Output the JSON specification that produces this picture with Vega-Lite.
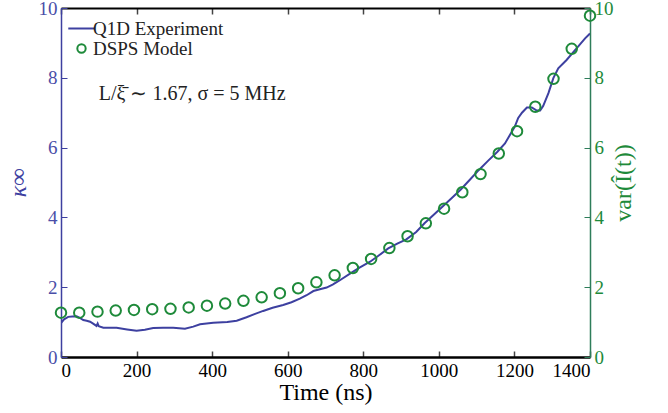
{
  "$schema": "https://vega.github.io/schema/vega-lite/v6.json",
  "width": 529,
  "height": 349,
  "autosize": {"type": "none"},
  "padding": {"left": 61, "top": 8, "right": 78, "bottom": 56},
  "background": "white",
  "config": {
    "view": {"stroke": null},
    "font": "Liberation Serif, serif",
    "axis": {"labelFont": "Liberation Serif, serif", "titleFont": "Liberation Serif, serif", "titleFontWeight": "normal"},
    "text": {"font": "Liberation Serif, serif"},
    "legend": {"labelFont": "Liberation Serif, serif"}
  },
  "datasets": {
    "exp": [
      {"t": 0, "k": 0.97}, {"t": 8, "k": 1.08}, {"t": 19, "k": 1.15}, {"t": 30, "k": 1.16}, {"t": 41, "k": 1.17},
      {"t": 50, "k": 1.12}, {"t": 59, "k": 1.06}, {"t": 68, "k": 1.04}, {"t": 77, "k": 1.01}, {"t": 86, "k": 0.95},
      {"t": 94, "k": 0.89}, {"t": 97, "k": 0.96}, {"t": 100, "k": 0.88}, {"t": 112, "k": 0.84}, {"t": 147, "k": 0.84},
      {"t": 175, "k": 0.79}, {"t": 200, "k": 0.75}, {"t": 222, "k": 0.78}, {"t": 244, "k": 0.83}, {"t": 270, "k": 0.84},
      {"t": 297, "k": 0.84}, {"t": 328, "k": 0.81}, {"t": 350, "k": 0.87}, {"t": 368, "k": 0.94}, {"t": 403, "k": 0.98},
      {"t": 440, "k": 1.0}, {"t": 465, "k": 1.04}, {"t": 491, "k": 1.14}, {"t": 512, "k": 1.23}, {"t": 535, "k": 1.32},
      {"t": 560, "k": 1.41}, {"t": 588, "k": 1.49}, {"t": 610, "k": 1.57}, {"t": 632, "k": 1.67}, {"t": 650, "k": 1.77},
      {"t": 668, "k": 1.89}, {"t": 685, "k": 1.94}, {"t": 703, "k": 1.99}, {"t": 720, "k": 2.08}, {"t": 738, "k": 2.2},
      {"t": 769, "k": 2.42}, {"t": 790, "k": 2.56}, {"t": 818, "k": 2.73}, {"t": 840, "k": 2.9}, {"t": 866, "k": 3.11},
      {"t": 890, "k": 3.25}, {"t": 914, "k": 3.37}, {"t": 940, "k": 3.58}, {"t": 962, "k": 3.83}, {"t": 985, "k": 4.06},
      {"t": 1010, "k": 4.31}, {"t": 1035, "k": 4.56}, {"t": 1058, "k": 4.8}, {"t": 1082, "k": 5.08}, {"t": 1106, "k": 5.36},
      {"t": 1130, "k": 5.62}, {"t": 1155, "k": 5.88}, {"t": 1175, "k": 6.12}, {"t": 1188, "k": 6.36}, {"t": 1201, "k": 6.6},
      {"t": 1210, "k": 6.85}, {"t": 1220, "k": 7.0}, {"t": 1233, "k": 7.15}, {"t": 1246, "k": 7.15}, {"t": 1259, "k": 7.06},
      {"t": 1268, "k": 7.06}, {"t": 1276, "k": 7.19}, {"t": 1290, "k": 7.56}, {"t": 1303, "k": 7.99}, {"t": 1316, "k": 8.27},
      {"t": 1338, "k": 8.51}, {"t": 1365, "k": 8.85}, {"t": 1387, "k": 9.13}, {"t": 1400, "k": 9.27}
    ],
    "model": [
      {"t": 0, "v": 1.27}, {"t": 48.3, "v": 1.27}, {"t": 96.6, "v": 1.3}, {"t": 144.8, "v": 1.33}, {"t": 193.1, "v": 1.35},
      {"t": 241.4, "v": 1.37}, {"t": 289.7, "v": 1.38}, {"t": 337.9, "v": 1.42}, {"t": 386.2, "v": 1.47}, {"t": 434.5, "v": 1.53},
      {"t": 482.8, "v": 1.61}, {"t": 531, "v": 1.71}, {"t": 579.3, "v": 1.83}, {"t": 627.6, "v": 1.97}, {"t": 675.9, "v": 2.14},
      {"t": 724.1, "v": 2.34}, {"t": 772.4, "v": 2.55}, {"t": 820.7, "v": 2.81}, {"t": 869, "v": 3.12}, {"t": 917.2, "v": 3.46},
      {"t": 965.5, "v": 3.83}, {"t": 1013.8, "v": 4.25}, {"t": 1062.1, "v": 4.72}, {"t": 1110.3, "v": 5.24}, {"t": 1158.6, "v": 5.83},
      {"t": 1206.9, "v": 6.47}, {"t": 1255.2, "v": 7.17}, {"t": 1303.4, "v": 7.97}, {"t": 1351.7, "v": 8.83}, {"t": 1400, "v": 9.78}
    ]
  },
  "layer": [
    {
      "data": {"name": "exp"},
      "transform": [{"calculate": "'Q1D Experiment'", "as": "series"}],
      "mark": {"type": "line", "strokeWidth": 2, "clip": true},
      "encoding": {
        "x": {"field": "t", "type": "quantitative", "scale": {"domain": [0, 1400], "nice": false},
          "axis": {"title": "Time (ns)", "format": "d", "values": [0, 200, 400, 600, 800, 1000, 1200, 1400], "grid": false,
            "domainColor": "black", "domainWidth": 2.5, "tickColor": "#444", "tickWidth": 1.5, "tickSize": -6,
            "labelFont": "Liberation Serif, serif", "labelColor": "black", "labelFontSize": 19, "labelPadding": 10,
            "titleFont": "Liberation Serif, serif", "titleFontWeight": "normal", "titleColor": "black", "titleFontSize": 24, "titlePadding": 0}},
        "y": {"field": "k", "type": "quantitative", "scale": {"domain": [0, 10], "nice": false},
          "axis": {"title": "κ∞", "values": [0, 2, 4, 6, 8, 10], "grid": false,
            "domainColor": "#3D40A0", "domainWidth": 1.5, "tickColor": "#3D40A0", "tickSize": -6,
            "labelFont": "Liberation Serif, serif", "labelColor": "#4A4EA8", "labelFontSize": 19, "labelPadding": 10,
            "titleFont": "Liberation Serif, serif", "titleFontWeight": "normal", "titleFontStyle": "italic", "titleColor": "#3D40A0", "titleFontSize": 24, "titlePadding": 8}},
        "color": {"field": "series", "type": "nominal",
          "scale": {"domain": ["Q1D Experiment", "DSPS Model"], "range": ["#3D40A0", "#1E8A3A"]},
          "legend": {"title": null, "orient": "top-left", "offset": 11, "labelFont": "Liberation Serif, serif", "labelFontSize": 19, "labelColor": "#222", "rowPadding": 0, "symbolSize": 550, "symbolStrokeWidth": 2, "padding": 0, "labelOffset": 2,
            "encode": {"symbols": {"update": {"size": {"signal": "datum.value === 'Q1D Experiment' ? 700 : 70"}}}}}
        }
      }
    },
    {
      "data": {"name": "model"},
      "transform": [{"calculate": "'DSPS Model'", "as": "series"}],
      "mark": {"type": "point", "filled": false, "size": 110, "strokeWidth": 2, "opacity": 1},
      "encoding": {
        "x": {"field": "t", "type": "quantitative", "axis": {"orient": "top", "title": null, "labels": false, "grid": false, "values": [0, 200, 400, 600, 800, 1000, 1200, 1400], "domainColor": "black", "domainWidth": 2, "tickColor": "#444", "tickWidth": 1.5, "tickSize": -6}},
        "y": {"field": "v", "type": "quantitative", "scale": {"domain": [0, 10], "nice": false},
          "axis": {"orient": "right", "title": "var(Î(t))", "titleAngle": -90, "values": [0, 2, 4, 6, 8, 10], "grid": false,
            "domainColor": "#2E7D5A", "domainWidth": 1.5, "tickColor": "#2E7D5A", "tickSize": -6,
            "labelFont": "Liberation Serif, serif", "labelColor": "#1E8A3A", "labelFontSize": 19, "labelPadding": 10,
            "titleFont": "Liberation Serif, serif", "titleFontWeight": "normal", "titleColor": "#1E8A3A", "titleFontSize": 24, "titlePadding": 22}},
        "color": {"field": "series", "type": "nominal"},
        "shape": {"field": "series", "type": "nominal", "scale": {"domain": ["Q1D Experiment", "DSPS Model"], "range": ["stroke", "circle"]}, "legend": {"title": null}}
      }
    },
    {
      "data": {"values": [{"label": "L/ξ̄ ∼ 1.67, σ = 5 MHz"}]},
      "mark": {"type": "text", "align": "left", "baseline": "middle", "font": "Liberation Serif, serif", "fontSize": 20, "color": "#222"},
      "encoding": {
        "x": {"datum": 100, "type": "quantitative", "axis": null},
        "y": {"datum": 7.55, "type": "quantitative", "scale": {"domain": [0, 10], "nice": false}, "axis": null},
        "text": {"field": "label"}
      }
    }
  ],
  "resolve": {"scale": {"y": "independent"}, "axis": {"x": "independent"}}
}
